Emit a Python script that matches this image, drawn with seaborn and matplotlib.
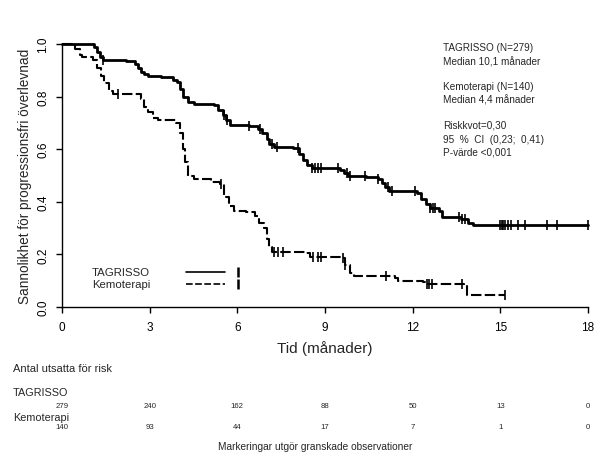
import numpy as np
import pandas as pd
import matplotlib
matplotlib.use("Agg")
import matplotlib.pyplot as plt
import seaborn as sns

# ---------------- data ----------------
tag_time = [0, 1.1, 1.2, 1.3, 1.4, 2.2, 2.5, 2.6, 2.7, 2.8, 2.95, 3.4, 3.8, 3.95, 4.05,
            4.15, 4.3, 4.5, 5.2, 5.35, 5.5, 5.6, 5.75, 6.4, 6.7, 6.85, 7.0, 7.1, 7.25,
            7.9, 8.1, 8.25, 8.4, 8.55, 9.5, 9.65, 9.8, 10.4, 10.8, 10.95, 11.05, 11.2,
            12.15, 12.3, 12.45, 12.6, 12.9, 13.0, 13.65, 13.9, 14.05, 18.0]
tag_surv = [1.0, 0.99, 0.97, 0.95, 0.94, 0.935, 0.925, 0.91, 0.895, 0.885, 0.878, 0.875,
            0.865, 0.855, 0.83, 0.80, 0.78, 0.772, 0.768, 0.75, 0.73, 0.71, 0.692, 0.688,
            0.675, 0.66, 0.64, 0.62, 0.608, 0.603, 0.58, 0.56, 0.54, 0.527, 0.52, 0.51,
            0.50, 0.495, 0.488, 0.47, 0.455, 0.44, 0.435, 0.41, 0.39, 0.375, 0.365, 0.343,
            0.335, 0.32, 0.31, 0.31]
tag_cens = [1.4, 5.55, 5.65, 6.4, 6.78, 7.2, 7.35, 8.08, 8.55, 8.65, 8.75, 8.85, 9.45,
            9.75, 9.85, 10.37, 10.8, 11.15, 11.3, 12.08, 12.6, 12.7, 12.75, 13.6, 13.7,
            13.8, 15.0, 15.05, 15.1, 15.15, 15.25, 15.35, 15.6, 15.85, 16.6, 16.95, 18.0]

chemo_time = [0, 0.45, 0.6, 0.7, 1.05, 1.2, 1.35, 1.45, 1.6, 1.75, 2.7, 2.8, 2.95, 3.1,
              3.3, 3.9, 4.05, 4.15, 4.2, 4.3, 4.5, 5.1, 5.4, 5.55, 5.7, 5.9, 6.3, 6.6,
              6.75, 6.9, 7.0, 7.1, 7.2, 8.3, 8.5, 9.55, 9.7, 9.85, 10.0, 11.4, 11.5,
              12.35, 12.45, 13.75, 13.85, 15.15]
chemo_surv = [1.0, 0.98, 0.96, 0.95, 0.94, 0.91, 0.88, 0.85, 0.82, 0.81, 0.79, 0.76,
              0.74, 0.72, 0.71, 0.70, 0.66, 0.60, 0.55, 0.50, 0.487, 0.475, 0.468, 0.42,
              0.385, 0.365, 0.36, 0.345, 0.32, 0.30, 0.26, 0.23, 0.21, 0.205, 0.19, 0.185,
              0.16, 0.13, 0.118, 0.11, 0.10, 0.095, 0.088, 0.085, 0.045, 0.045]
chemo_cens = [1.9, 5.45, 7.25, 7.4, 7.55, 8.6, 8.75, 8.85, 9.6, 9.7, 11.1, 12.5, 12.55,
              12.65, 13.7, 15.15]

risk_times = [0, 3, 6, 9, 12, 15, 18]
risk_tag = [279, 240, 162, 88, 50, 13, 0]
risk_chemo = [140, 93, 44, 17, 7, 1, 0]

arm_names = ["TAGRISSO", "Kemoterapi"]
stats_lines = ["TAGRISSO (N=279)", "Median 10,1 månader", "",
               "Kemoterapi (N=140)", "Median 4,4 månader", "",
               "Riskkvot=0,30", "95  %  CI  (0,23;  0,41)", "P-värde <0,001"]

# ---------------- style ----------------
sns.set_style("ticks")
plt.rcParams["font.family"] = ["Liberation Sans", "DejaVu Sans"]

fig = plt.figure(figsize=(6.09, 4.60), dpi=100)
ax = fig.add_axes([62 / 609, 1 - 308 / 460, (588 - 62) / 609, (308 - 45) / 460])


def step_at(times, survs, t):
    idx = np.searchsorted(times, t, side="right") - 1
    return np.asarray(survs)[idx]


tag_df = pd.DataFrame({"t": tag_time, "s": tag_surv})
chemo_df = pd.DataFrame({"t": chemo_time, "s": chemo_surv})

sns.lineplot(data=tag_df, x="t", y="s", ax=ax, color="black", lw=2.0,
             drawstyle="steps-post", estimator=None, sort=False, clip_on=False)
sns.lineplot(data=chemo_df, x="t", y="s", ax=ax, color="black", lw=1.5,
             drawstyle="steps-post", estimator=None, sort=False, clip_on=False,
             linestyle=(0, (5, 1.6)))

tag_c = pd.DataFrame({"t": tag_cens, "s": step_at(tag_time, tag_surv, tag_cens)})
chemo_c = pd.DataFrame({"t": chemo_cens, "s": step_at(chemo_time, chemo_surv, chemo_cens)})
sns.scatterplot(data=tag_c, x="t", y="s", ax=ax, marker="|", s=45, color="black",
                linewidth=1.2, clip_on=False, zorder=4)
sns.scatterplot(data=chemo_c, x="t", y="s", ax=ax, marker="|", s=50, color="black",
                linewidth=1.2, clip_on=False, zorder=4)

ax.set_xlim(0, 18)
ax.set_ylim(0, 1)
ax.set_xticks(risk_times)
ax.set_xticklabels([str(v) for v in risk_times])
ax.set_yticks([0, 0.2, 0.4, 0.6, 0.8, 1.0])
ax.set_yticklabels(["0.0", "0.2", "0.4", "0.6", "0.8", "1.0"], rotation=90, va="center")
ax.tick_params(axis="both", length=4, width=1, color="black", labelsize=8.5,
               labelcolor="black")
ax.tick_params(axis="x", pad=6)
ax.tick_params(axis="y", pad=5)
sns.despine(ax=ax)
for sp in ["left", "bottom"]:
    ax.spines[sp].set_color("black")
    ax.spines[sp].set_linewidth(1.0)

ax.set_xlabel("Tid (månader)", fontsize=11, labelpad=5)
ax.set_ylabel("Sannolikhet för progressionsfri överlevnad", fontsize=9.8, labelpad=4)

# in-plot legend
lx0, lx1, ltick = (186 - 62) / 526, (225 - 62) / 526, (238 - 62) / 526
ly = [(308 - 273) / 263, (308 - 285) / 263]
ax.text((92 - 62) / 526, ly[0], arm_names[0], transform=ax.transAxes, fontsize=8.2,
        va="center", ha="left")
ax.text((92 - 62) / 526, ly[1], arm_names[1], transform=ax.transAxes, fontsize=8.2,
        va="center", ha="left")
ax.plot([lx0, lx1], [ly[0], ly[0]], transform=ax.transAxes, color="black", lw=1.2)
ax.plot([lx0, lx1], [ly[1], ly[1]], transform=ax.transAxes, color="black", lw=1.2,
        linestyle=(0, (4, 1.5)))
ax.plot([ltick], [ly[0]], transform=ax.transAxes, marker="|", ms=7, mew=1.8, color="black")
ax.plot([ltick], [ly[1]], transform=ax.transAxes, marker="|", ms=7, mew=1.8, color="black")

# statistics block
ys = [48, 62, 74, 87, 100, 113, 126, 140, 153]
for txt, yp in zip(stats_lines, ys):
    if txt:
        fig.text(443 / 609, 1 - yp / 460, txt, fontsize=7.2, va="center", ha="left")

# risk table
fig.text(13 / 609, 1 - 369 / 460, "Antal utsatta för risk", fontsize=8, va="center")
fig.text(13 / 609, 1 - 393 / 460, arm_names[0], fontsize=7.8, va="center")
fig.text(13 / 609, 1 - 418 / 460, arm_names[1], fontsize=7.8, va="center")
trans = matplotlib.transforms.blended_transform_factory(ax.transData, fig.transFigure)
for t, a, b in zip(risk_times, risk_tag, risk_chemo):
    ax.text(t, 1 - 407 / 460, str(a), transform=trans, fontsize=5.6, ha="center",
            va="center", clip_on=False)
    ax.text(t, 1 - 428 / 460, str(b), transform=trans, fontsize=5.6, ha="center",
            va="center", clip_on=False)
fig.text(315 / 609, 1 - 447 / 460, "Markeringar utgör granskade observationer",
         fontsize=7.3, ha="center", va="center")

fig.savefig("out.png", dpi=100)
